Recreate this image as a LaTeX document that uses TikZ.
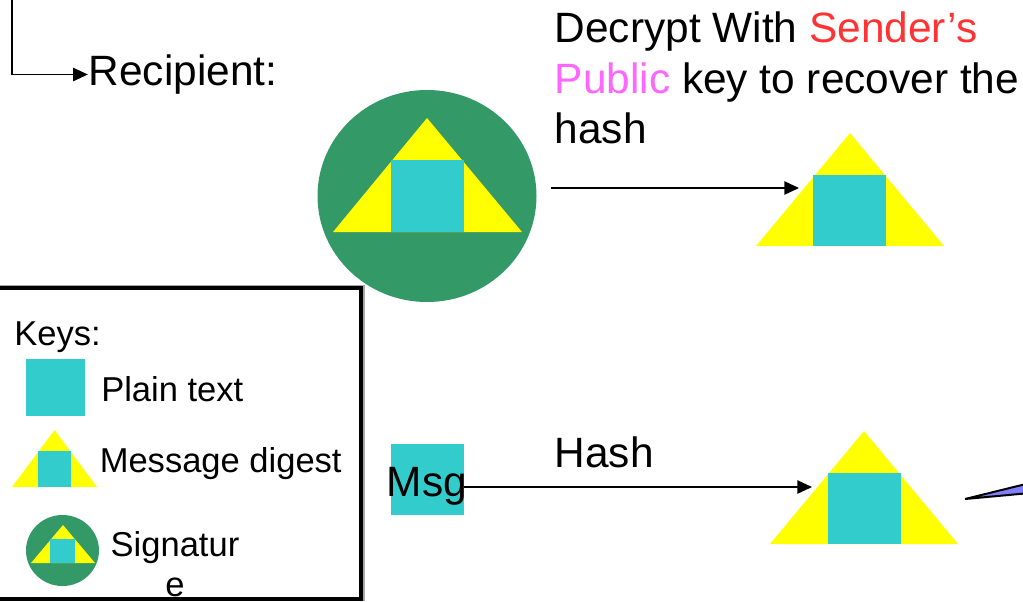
\documentclass[tikz,border=0pt]{standalone}
\usepackage{fontspec}
\setmainfont{Liberation Sans}
\usepackage{tikz}
\usetikzlibrary{positioning, calc, arrows.meta}

\definecolor{plaincyan}{HTML}{33CCCC}
\definecolor{digestyellow}{HTML}{FFFF00}
\definecolor{signgreen}{HTML}{339966}
\definecolor{senderred}{HTML}{FF3333}
\definecolor{publicpink}{HTML}{FF66FF}
\definecolor{bubbleblue}{HTML}{8080FF}

\tikzset{
  plainbox/.style={fill=plaincyan, inner sep=0pt, minimum width=54.75pt, minimum height=53.5pt},
  digest/.style={fill=digestyellow},
  signdisc/.style={fill=signgreen},
  bigtext/.style={font=\fontsize{31.8}{37.7}\selectfont, inner sep=0pt},
  keytext/.style={font=\fontsize{25.9}{30}\selectfont, inner sep=0pt},
  conn/.style={line width=1.1pt, -{Triangle[length=11pt,width=10pt]}}
}

\begin{document}
\begin{tikzpicture}[x=0.75pt,y=-0.75pt]
  \useasboundingbox (0,0) rectangle (1023,601);

  % recipient
  \node[bigtext, anchor=base west] (recipient) at (88.5,85) {Recipient:};
  \coordinate (topin) at (12,-5);
  \draw[conn] (topin) |- ([xshift=-0.5pt]recipient.west |- 0,74.5);

  % signature
  \fill[signdisc] (427,196) ellipse[x radius=109.5, y radius=106];
  \fill[digest] (427,118) -- (522,232) -- (333,232) -- cycle;
  \node[plainbox] (sighash) at (427.5,196) {};

  % decrypted digest
  \fill[digest] (850,133) -- (944,246) -- (756,246) -- cycle;
  \node[plainbox] (dechash) at (849.5,210.5) {};
  \node[bigtext, anchor=north west, align=left] (decrypt) at (554.5,12)
    {Decrypt With \textcolor{senderred}{Sender’s}\\
     \textcolor{publicpink}{Public} key to recover the\\
     hash};
  \coordinate (sigout) at (551,188);
  \coordinate (decin) at (799,188);
  \draw[conn] (sigout) -- (decin);

  % keys
  \draw[gray!70, line width=1pt] (-10,286) rectangle (364,600);
  \draw[fill=white, line width=3pt] (-10,288) rectangle (361,599);
  \node[keytext, anchor=base west] (keys) at (14,345) {Keys:};
  \node[plainbox, minimum width=44.25pt, minimum height=42.75pt] (keyplain) at (55.5,387.5) {};
  \node[keytext, anchor=base west] (plaintext) at (101,401) {Plain text};
  \fill[digest] (54.5,430) -- (97,487) -- (12,487) -- cycle;
  \node[plainbox, minimum width=24.75pt, minimum height=27pt] (keydigest) at (54.5,469) {};
  \node[keytext, anchor=base west] (msgdigest) at (99.5,472) {Message digest};
  \fill[signdisc] (62.5,550.5) ellipse[x radius=36.5, y radius=35.5];
  \fill[digest] (63,525) -- (95,563) -- (31,563) -- cycle;
  \node[plainbox, minimum width=18.75pt, minimum height=18pt] (keysign) at (62.5,551) {};
  \node[keytext, anchor=north, align=center] (signatur) at (175,531.5) {Signatur\\e};

  % msg
  \node[plainbox] (msg) at (427.5,479.5) {};
  \node[bigtext, anchor=base] (msgtext) at (427,496) {Msg};
  \node[bigtext, anchor=base west] (hashtext) at (554.5,467) {Hash};
  \fill[digest] (864,431) -- (958,544) -- (770,544) -- cycle;
  \node[plainbox] (msghash) at (864.5,508.5) {};
  \coordinate (hashin) at (812,487);
  \draw[conn] (msg.east |- hashin) -- (hashin);

  % callout
  \draw[fill=bubbleblue, line width=1.5pt] (1030,483) -- (965,499) -- (1030,493);
\end{tikzpicture}
\end{document}
